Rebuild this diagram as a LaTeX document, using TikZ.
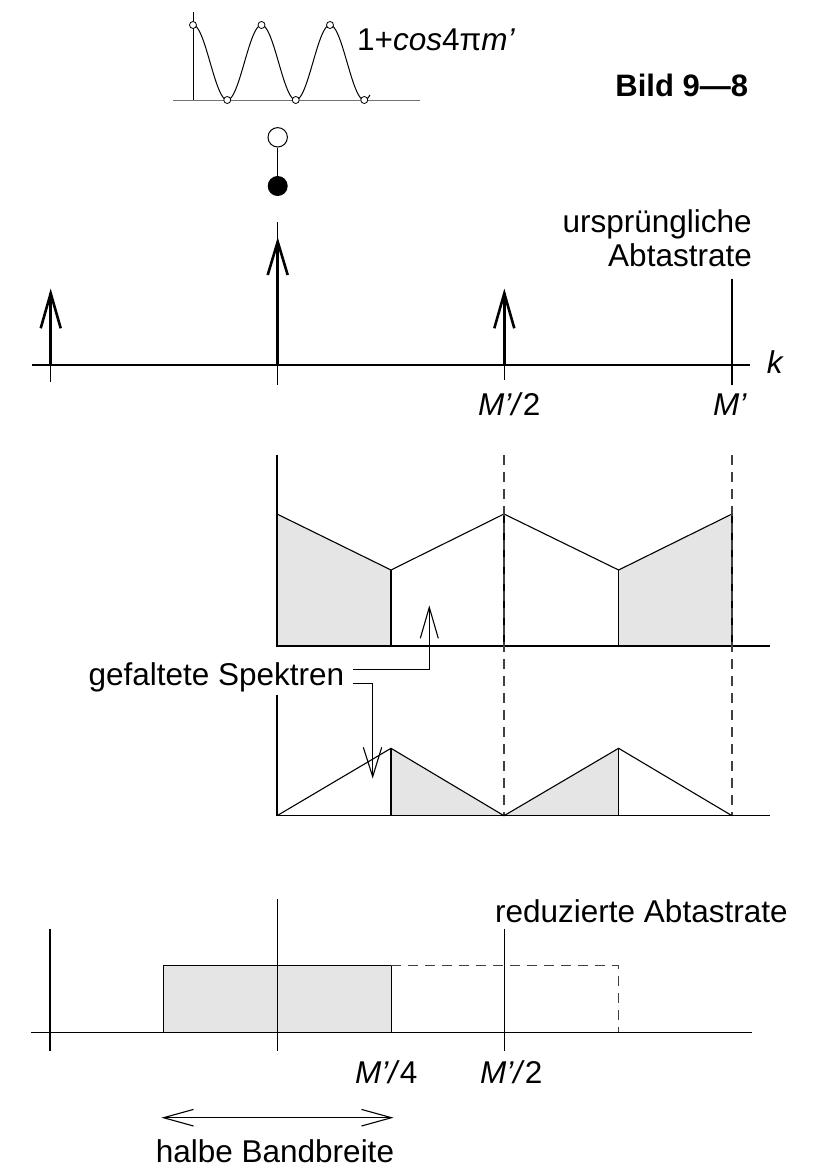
\documentclass[tikz,border=0pt]{standalone}
\usepackage{fontspec}
\setmainfont{Liberation Sans}
\definecolor{shadegray}{gray}{0.9}
\begin{document}
\begin{tikzpicture}[x=1pt,y=-1pt,
  thinline/.style={line width=1.1pt},
  thickline/.style={line width=2.6pt},
  lbl/.style={inner sep=0pt, font=\fontsize{31.5}{36}\selectfont},
  dashline/.style={line width=1.1pt, dash pattern=on 10pt off 7pt, draw=black!75},
  smallcirc/.style={circle, draw, fill=white, inner sep=0pt, minimum size=7pt, line width=0.8pt}]
\useasboundingbox (0,0) rectangle (816,1167);

% ---------- top: 1+cos plot ----------
\draw[line width=1pt, black!55] (173,100) -- (420,100);
\draw[line width=1pt] (193,12) -- (193,100);
\draw[line width=1pt] plot[domain=0:177,samples=160,smooth] ({193+\x},{62.5-37.5*cos(\x/68.5*360)});
\foreach \px/\py [count=\i] in {193/25,261.5/25,330/25,227.25/100,295.75/100,364.25/100}
  \node[smallcirc] (c\i) at (\px,\py) {};
\node[lbl, anchor=base west] (coslbl) at (357,50) {1+\textit{cos}4π\textit{m’}};
\node[lbl, anchor=base east, font=\bfseries\fontsize{31}{36}\selectfont] (bild) at (748.3,96.7) {Bild 9—8};

% ---------- circles ----------
\node[circle, draw, line width=1pt, minimum size=19.4pt, inner sep=0pt] (oc) at (277.7,137.3) {};
\node[circle, fill=black, minimum size=20pt, inner sep=0pt] (fc) at (277.7,186) {};
\draw[line width=1pt] (oc) -- (fc);

% ---------- section 2: impulses ----------
\draw[thinline] (32,365) -- (750,365);
% left
\draw[thinline] (50.7,293.3) -- (50.7,382);
\draw[thickline] (50.7,365) -- (50.7,293.3);
\draw[thickline] (40.7,328.3) -- (50.7,293.3) -- (60.7,328.3);
% middle
\draw[thinline] (277.7,222) -- (277.7,385);
\draw[thickline] (277.7,365) -- (277.7,241.7);
\draw[thickline] (267.7,275) -- (277.7,241.7) -- (287.7,275);
% right
\draw[thinline] (504.3,293.3) -- (504.3,380);
\draw[thickline] (504.3,365) -- (504.3,293.3);
\draw[thickline] (494.3,328.3) -- (504.3,293.3) -- (514.3,328.3);
% M'
\draw[thinline] (732,279) -- (732,385);
\node[lbl, anchor=base east] (urs) at (752,232) {ursprüngliche};
\node[lbl, anchor=base east] (abt) at (752,266.5) {Abtastrate};
\node[lbl, anchor=base west] (klbl) at (766.7,373) {\textit{k}};
\node[lbl, anchor=base west] (m2a) at (478,415) {\textit{M’/}2};
\node[lbl, anchor=base west] (m1a) at (713,415) {\textit{M’}};

% ---------- section 3 ----------
\fill[shadegray] (277,514) -- (391,570) -- (391,646) -- (277,646) -- cycle;
\fill[shadegray] (618.6,570) -- (732,514) -- (732,646) -- (618.6,646) -- cycle;
\draw[thinline] (277,455) -- (277,646) -- (770,646);
\draw[line width=1.8pt] (277,514) -- (277,646);
\draw[thinline] (277,514) -- (391,570) -- (504,514) -- (618.6,570) -- (732,514);
\draw[line width=1.7pt] (391,570) -- (391,646);
\draw[line width=1.4pt] (618.6,570) -- (618.6,646);
\draw[thinline] (504,514) -- (504,646);
\draw[thinline] (732,514) -- (732,646);
\draw[dashline] (504,455) -- (504,815.7);
\draw[dashline] (732,455) -- (732,815.7);

% ---------- section 4 ----------
\fill[shadegray] (391,748.3) -- (504,815.7) -- (391,815.7) -- cycle;
\fill[shadegray] (504,815.7) -- (618.6,748.3) -- (618.6,815.7) -- cycle;
\draw[thinline] (277,695) -- (277,815.7) -- (770,815.7);
\draw[thinline] (277,815.7) -- (391,748.3) -- (504,815.7) -- (618.6,748.3) -- (732,815.7);
\draw[thinline] (391,748.3) -- (391,815.7);
\draw[thinline] (618.6,748.3) -- (618.6,815.7);

% ---------- label with connectors ----------
\node[lbl, anchor=base west] (gs) at (88.3,685) {gefaltete Spektren};
\coordinate (ustart) at (353,669.3);
\coordinate (utip) at (429.3,607.3);
\draw[thinline] (ustart) -- (utip |- ustart) -- (utip);
\draw[thinline] ([shift={(-9,31)}]utip) -- (utip) -- ([shift={(9,31)}]utip);
\coordinate (lstart) at (353,683.3);
\coordinate (ltip) at (372.7,776.7);
\draw[thinline] (lstart) -- (ltip |- lstart) -- (ltip);
\draw[thinline] ([shift={(-9.4,-29.4)}]ltip) -- (ltip) -- ([shift={(9,-29.4)}]ltip);

% ---------- section 5 ----------
\filldraw[fill=shadegray, draw=black, line width=1.1pt] (163.2,965.7) rectangle (391.3,1032.3);
\draw[dashline] (391.3,965.7) -- (618.8,965.7) -- (618.8,1032.3);
\draw[thinline] (31,1032.3) -- (752,1032.3);
\draw[thinline] (50,929) -- (50,1050.7);
\draw[thinline] (277.5,899) -- (277.5,1050.7);
\draw[thinline] (504.3,929) -- (504.3,1050.7);
\node[lbl, anchor=base west] (red) at (495,922) {reduzierte Abtastrate};
\node[lbl, anchor=base west] (m4b) at (355,1083) {\textit{M’/}4};
\node[lbl, anchor=base west] (m2b) at (480,1083) {\textit{M’/}2};
\coordinate (al) at (163.5,1117.7);
\coordinate (ar) at (391.5,1117.7);
\draw[thinline] (al) -- (ar);
\draw[thinline] ([shift={(30,-8.3)}]al) -- (al) -- ([shift={(30,8.3)}]al);
\draw[thinline] ([shift={(-30,-8.3)}]ar) -- (ar) -- ([shift={(-30,8.3)}]ar);
\node[lbl, anchor=base] (hb) at (275,1162) {halbe Bandbreite};
\end{tikzpicture}
\end{document}
